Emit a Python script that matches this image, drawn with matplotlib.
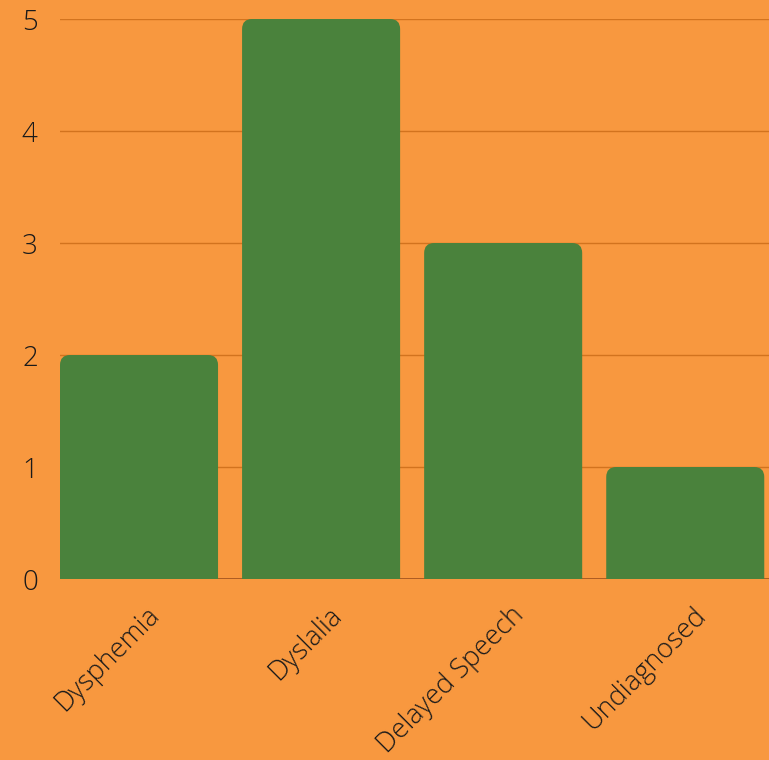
import matplotlib.pyplot as plt
import matplotlib.transforms as mtransforms
from matplotlib.patches import FancyBboxPatch

categories = ["Dysphemia", "Dyslalia", "Delayed Speech", "Undiagnosed"]
counts = [2, 5, 3, 1]
y_ticks = [0, 1, 2, 3, 4, 5]

bg_color = "#F8983F"
bar_color = "#4A823C"
grid_color = "#D2731E"
text_color = "#1a1a1a"

plt.rcParams["font.family"] = ["Open Sans", "DejaVu Sans"]

fig = plt.figure(figsize=(7.69, 7.6), dpi=100)
fig.patch.set_facecolor(bg_color)
ax = fig.add_axes([60 / 769, 181 / 760, 709 / 769, 560 / 760])
ax.set_facecolor(bg_color)

width = 0.868
radius_x = 0.055
aspect = 1.62

# bars with rounded top corners (bottom pushed below 0 and clipped)
for i, v in enumerate(counts):
    patch = FancyBboxPatch((i - width / 2, -0.2), width, v + 0.2,
                           boxstyle=f"round,pad=0,rounding_size={radius_x}",
                           mutation_aspect=aspect,
                           facecolor=bar_color, edgecolor="none", zorder=3)
    ax.add_patch(patch)

ax.set_xlim(-0.434, 3.46)
ax.set_ylim(0, 5)

for t in y_ticks[1:]:
    ax.axhline(t, color=grid_color, linewidth=1, zorder=1)
ax.axhline(0, color="#A0521E", linewidth=1.2, zorder=2)

ax.set_yticks(y_ticks)
ax.set_yticklabels([str(t) for t in y_ticks], fontsize=20, color=text_color,
                   fontweight="light")
ax.set_xticks(range(len(categories)))
ax.set_xticklabels(categories, rotation=45, ha="right", rotation_mode="anchor",
                   fontsize=19.5, color=text_color, fontweight="light")

ax.tick_params(axis="y", length=0, pad=16)
ax.tick_params(axis="x", length=0, pad=16)

# nudge rotated labels to the right like the reference
shift = mtransforms.ScaledTranslation(7 / 100, 0, fig.dpi_scale_trans)
for lab in ax.get_xticklabels():
    lab.set_transform(lab.get_transform() + shift)

for spine in ax.spines.values():
    spine.set_visible(False)

fig.savefig("out.png", dpi=100, facecolor=bg_color)
